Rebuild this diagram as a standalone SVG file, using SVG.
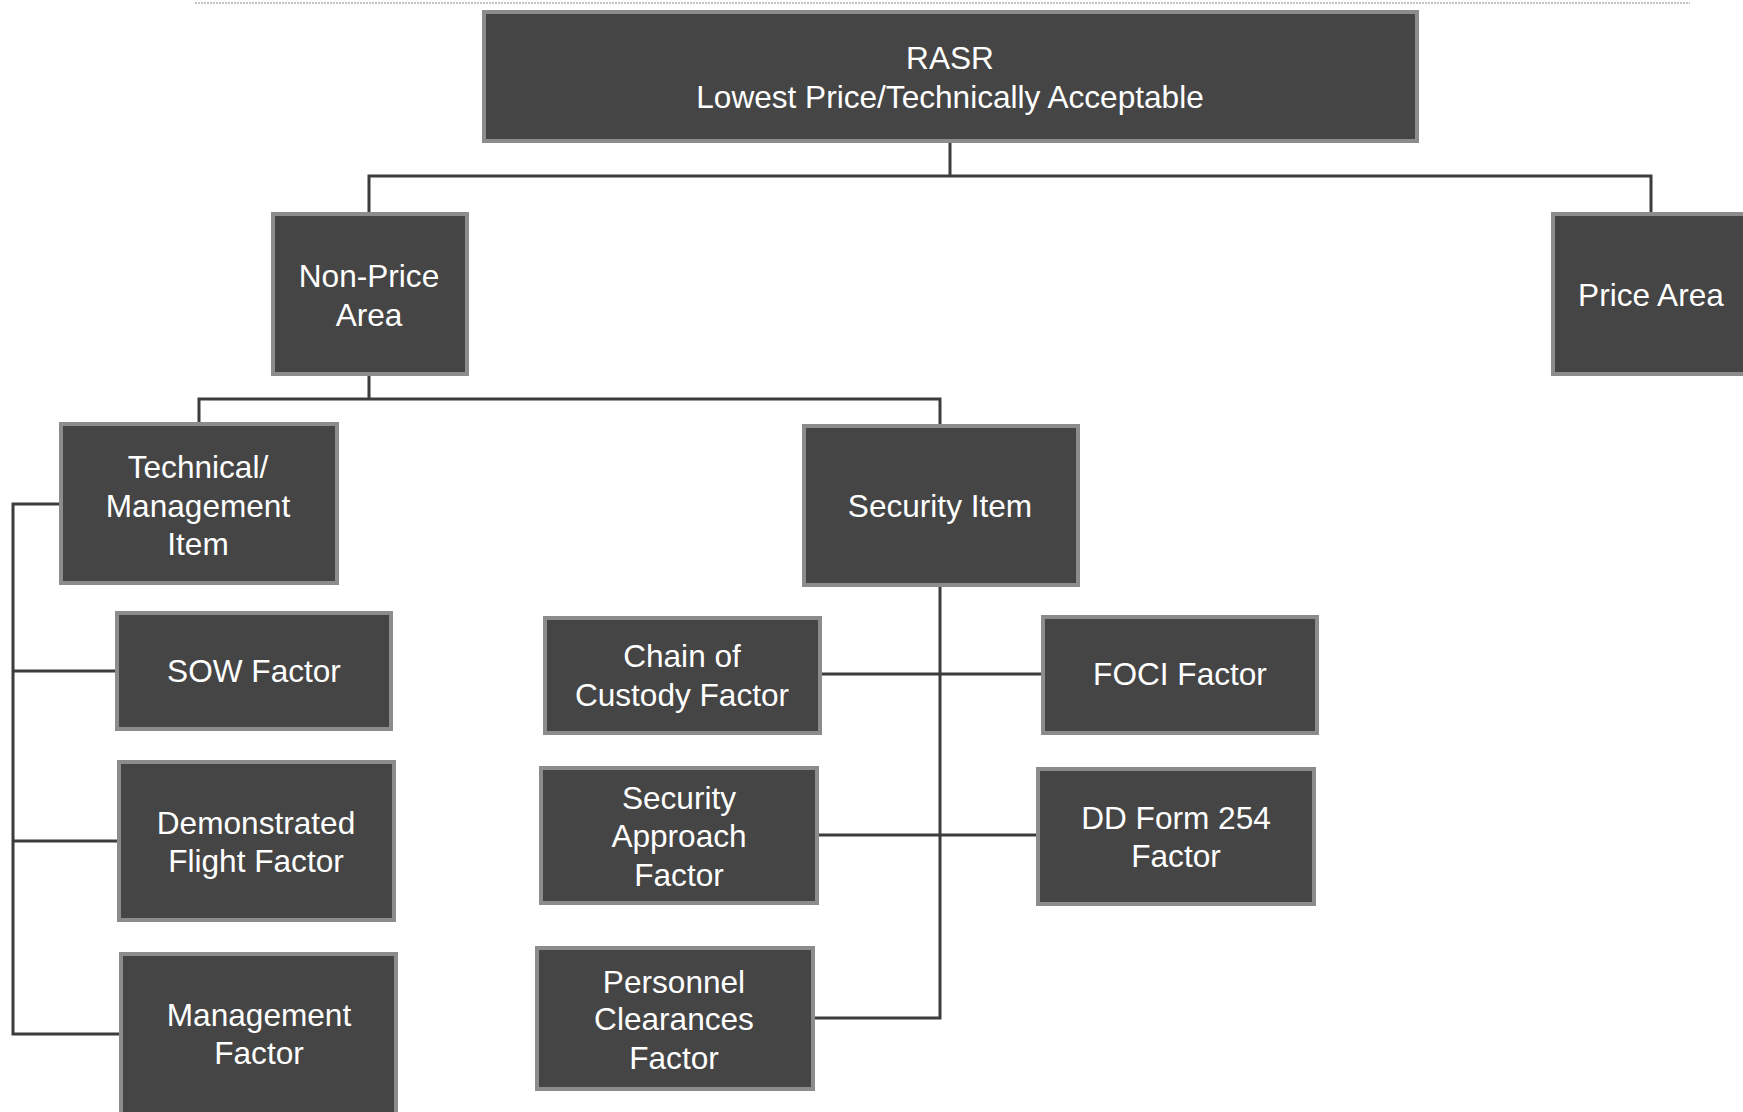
<svg xmlns="http://www.w3.org/2000/svg" width="1743" height="1112" viewBox="0 0 1743 1112">
<style>
.box{fill:#454545;stroke:#8c8c8c;stroke-width:4}
.lbl{font-family:"Liberation Sans",Arial,sans-serif;font-size:31.6px;fill:#ffffff;text-anchor:middle}
.con{fill:none;stroke:#3c3c3c;stroke-width:3}
</style>
<rect width="1743" height="1112" fill="#ffffff"/>
<line x1="195" y1="3" x2="1690" y2="3" stroke="#c4c4c4" stroke-width="2" stroke-dasharray="2 1"/>
<g id="connectors">
<path class="con" d="M950 141V176M369 213V176H1651V213"/>
<path class="con" d="M369 375V399M199 424V399H940V425"/>
<path class="con" d="M60 504H13V1034H120M13 671H116M13 841H118"/>
<path class="con" d="M940 585V1018H813M820 674H1042M817 835H1037"/>
</g>
<g id="rasr"><rect class="box" x="484" y="12" width="933" height="129"/><text class="lbl" x="950" y="69">RASR</text><text class="lbl" x="950" y="108">Lowest Price/Technically Acceptable</text></g>
<g id="nonprice"><rect class="box" x="273" y="214" width="194" height="160"/><text class="lbl" x="369" y="287">Non-Price</text><text class="lbl" x="369" y="326">Area</text></g>
<g id="price"><rect class="box" x="1553" y="214" width="200" height="160"/><text class="lbl" x="1651" y="306">Price Area</text></g>
<g id="techmgmt"><rect class="box" x="61" y="424" width="276" height="159"/><text class="lbl" x="198" y="478">Technical/</text><text class="lbl" x="198" y="517">Management</text><text class="lbl" x="198" y="555">Item</text></g>
<g id="security"><rect class="box" x="804" y="426" width="274" height="159"/><text class="lbl" x="940" y="517">Security Item</text></g>
<g id="sow"><rect class="box" x="117" y="613" width="274" height="116"/><text class="lbl" x="254" y="682">SOW Factor</text></g>
<g id="demo"><rect class="box" x="119" y="762" width="275" height="158"/><text class="lbl" x="256" y="834">Demonstrated</text><text class="lbl" x="256" y="872">Flight Factor</text></g>
<g id="mgmt"><rect class="box" x="121" y="954" width="275" height="160"/><text class="lbl" x="259" y="1026">Management</text><text class="lbl" x="259" y="1064">Factor</text></g>
<g id="chain"><rect class="box" x="545" y="618" width="275" height="115"/><text class="lbl" x="682" y="667">Chain of</text><text class="lbl" x="682" y="706">Custody Factor</text></g>
<g id="foci"><rect class="box" x="1043" y="617" width="274" height="116"/><text class="lbl" x="1180" y="685">FOCI Factor</text></g>
<g id="secapproach"><rect class="box" x="541" y="768" width="276" height="135"/><text class="lbl" x="679" y="809">Security</text><text class="lbl" x="679" y="847">Approach</text><text class="lbl" x="679" y="886">Factor</text></g>
<g id="dd254"><rect class="box" x="1038" y="769" width="276" height="135"/><text class="lbl" x="1176" y="829">DD Form 254</text><text class="lbl" x="1176" y="867">Factor</text></g>
<g id="personnel"><rect class="box" x="537" y="948" width="276" height="141"/><text class="lbl" x="674" y="993">Personnel</text><text class="lbl" x="674" y="1030">Clearances</text><text class="lbl" x="674" y="1069">Factor</text></g>
</svg>
